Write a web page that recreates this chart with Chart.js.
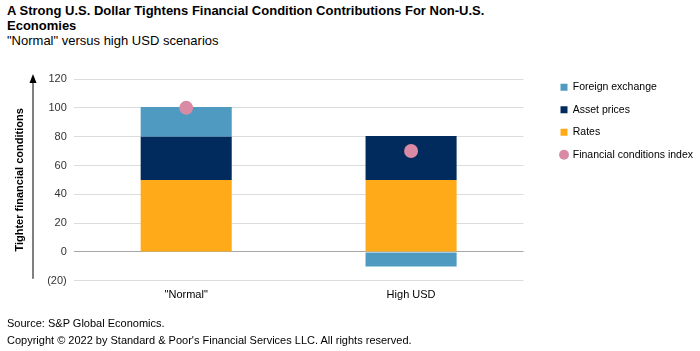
<!DOCTYPE html>
<html>
<head>
<meta charset="utf-8">
<script src="https://cdn.jsdelivr.net/npm/chart.js@4"></script>
<style>
  body { margin: 0; width: 700px; height: 351px; background: #fff; font-family: "Liberation Sans", Arial, sans-serif; color: #000; position: relative; overflow: hidden; }
  .title { position: absolute; left: 7px; top: 3px; font-size: 13px; font-weight: bold; line-height: 15px; }
  .subtitle { position: absolute; left: 7px; top: 33px; font-size: 13px; }
  .footer { position: absolute; left: 7px; font-size: 11px; color: #000; }
  #wrap { position: absolute; left: 0; top: 60px; width: 700px; height: 260px; }
</style>
</head>
<body>
<div class="title">A Strong U.S. Dollar Tightens Financial Condition Contributions For Non-U.S.<br>Economies</div>
<div class="subtitle">"Normal" versus high USD scenarios</div>
<div id="wrap"><canvas id="chart"></canvas></div>
<div class="footer" style="top:317px">Source: S&amp;P Global Economics.</div>
<div class="footer" style="top:334px">Copyright © 2022 by Standard &amp; Poor's Financial Services LLC. All rights reserved.</div>
<script>
const categories = ['"Normal"', 'High USD'];
const rates = [50, 50];
const assetPrices = [30, 30.5];
const foreignExchange = [20.5, -10];
const fci = [100, 70];
const legendOrder = ['Foreign exchange', 'Asset prices', 'Rates', 'Financial conditions index'];

const legendGap = 16;    // white space between plot and legend
const legendIndent = 9;  // items sit further right inside the legend box
const legendLift = 9;    // legend sits a little above the plot top

// arrow next to the y axis title
const axisArrow = {
    id: 'axisArrow',
    afterDraw(chart) {
        const ctx = chart.ctx;
        const area = chart.chartArea;
        const x = 33;
        ctx.save();
        ctx.strokeStyle = '#000';
        ctx.fillStyle = '#000';
        ctx.lineWidth = 1;
        ctx.beginPath();
        ctx.moveTo(x, area.bottom - 2);
        ctx.lineTo(x, area.top + 2);
        ctx.stroke();
        ctx.beginPath();
        ctx.moveTo(x - 3.5, area.top + 4);
        ctx.lineTo(x + 3.5, area.top + 4);
        ctx.lineTo(x, area.top - 5);
        ctx.closePath();
        ctx.fill();
        ctx.restore();
    }
};

// widen the legend box so the plot ends earlier, then move the items back
const legendSpacing = {
    id: 'legendSpacing',
    afterInit(chart) {
        const legend = chart.legend;
        const fit = legend.fit.bind(legend);
        legend.fit = function () {
            fit();
            this.width += legendGap;
        };
    },
    afterLayout(chart) {
        chart.legend.left += legendGap + legendIndent;
        chart.legend.top -= legendLift;
    }
};

const ctx = document.getElementById('chart').getContext('2d');
new Chart(ctx, {
    data: {
        labels: categories,
        datasets: [
            { type: 'bar', label: 'Rates', data: rates, backgroundColor: '#ffab19', pointStyle: 'rect', stack: 'parts' },
            { type: 'bar', label: 'Asset prices', data: assetPrices, backgroundColor: '#002b5c', pointStyle: 'rect', stack: 'parts' },
            { type: 'bar', label: 'Foreign exchange', data: foreignExchange, backgroundColor: '#4e9ac1', pointStyle: 'rect', stack: 'parts' },
            { type: 'line', label: 'Financial conditions index', data: fci, showLine: false, stack: 'fci',
              pointStyle: 'circle', pointRadius: 7, pointHoverRadius: 7, pointBackgroundColor: '#d98aa4',
              pointBorderWidth: 0, backgroundColor: '#d98aa4', borderColor: '#d98aa4', order: -1 }
        ]
    },
    options: {
        responsive: true,
        maintainAspectRatio: false,
        animation: false,
        layout: { padding: { left: 0, right: 6, top: 19, bottom: 10 } },
        datasets: { bar: { barPercentage: 0.405, categoryPercentage: 1 } },
        scales: {
            x: {
                stacked: true,
                grid: { display: false, drawTicks: false },
                border: { display: false },
                ticks: { color: '#000', font: { family: 'Liberation Sans', size: 11 }, padding: 8 }
            },
            y: {
                stacked: true,
                min: -20,
                max: 120,
                ticks: {
                    stepSize: 20,
                    padding: 7,
                    color: '#333',
                    font: { family: 'Liberation Sans', size: 11 },
                    callback: v => v < 0 ? '(' + Math.abs(v) + ')' : v
                },
                grid: {
                    drawTicks: false,
                    color: c => c.tick && c.tick.value === 0 ? '#a6a6a6' : '#dcdcdc'
                },
                border: { display: false },
                title: {
                    display: true,
                    text: 'Tighter financial conditions',
                    color: '#000',
                    font: { family: 'Liberation Sans', size: 11, weight: 'bold' },
                    padding: { top: 13, bottom: 14 }
                }
            }
        },
        plugins: {
            legend: {
                position: 'right',
                align: 'start',
                labels: {
                    usePointStyle: true,
                    boxWidth: 7,
                    boxHeight: 7,
                    padding: 12,
                    color: '#000',
                    font: { family: 'Liberation Sans', size: 10.5 },
                    sort: (a, b) => legendOrder.indexOf(a.text) - legendOrder.indexOf(b.text)
                }
            },
            tooltip: { enabled: false }
        }
    },
    plugins: [axisArrow, legendSpacing]
});
</script>
</body>
</html>
